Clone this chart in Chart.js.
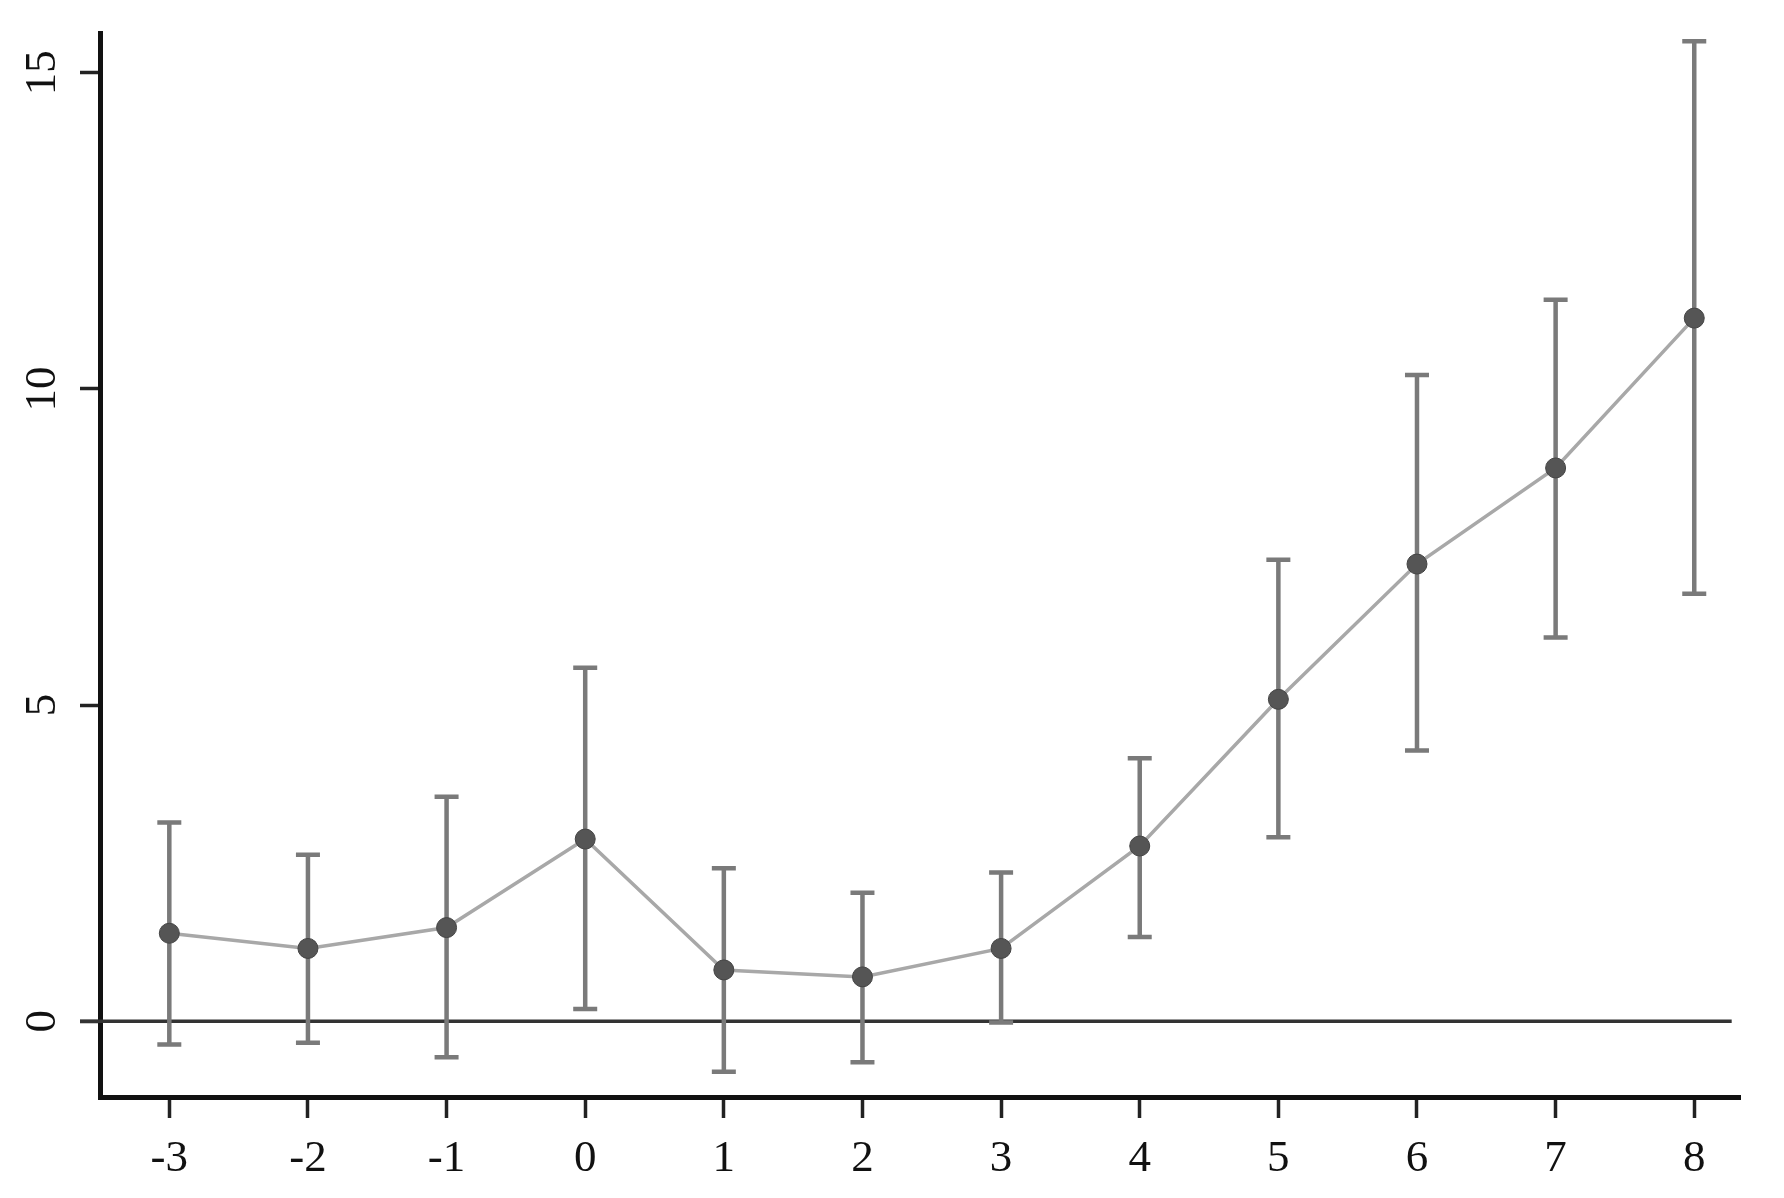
<!DOCTYPE html>
<html>
<head>
<meta charset="utf-8">
<script src="https://cdn.jsdelivr.net/npm/chart.js@4.4.1/dist/chart.umd.min.js"></script>
<style>
  html, body { margin: 0; padding: 0; background: #fff; }
  #wrap { width: 1784px; height: 1198px; }
</style>
</head>
<body>
<div id="wrap"><canvas id="eventStudy" width="1784" height="1198"></canvas></div>
<script>
// event time, point estimates and 95% CI bounds
var periods = [-3, -2, -1, 0, 1, 2, 3, 4, 5, 6, 7, 8];
var estimates = [1.39, 1.15, 1.48, 2.88, 0.81, 0.70, 1.15, 2.77, 5.09, 7.23, 8.75, 11.12];
var ciUpper = [3.14, 2.63, 3.55, 5.59, 2.42, 2.03, 2.35, 4.16, 7.30, 10.22, 11.41, 15.50];
var ciLower = [-0.37, -0.34, -0.57, 0.19, -0.80, -0.65, -0.02, 1.33, 2.91, 4.28, 6.07, 6.76];
var yTickValues = [0, 5, 10, 15];
var xTickValues = [-3, -2, -1, 0, 1, 2, 3, 4, 5, 6, 7, 8];
var zeroLineEnd = 8.27;

var labelFont = '"Liberation Serif", "DejaVu Serif", serif';

// error bars + reference line at 0, drawn under the series
var errorBarPlugin = {
  id: 'errorBars',
  beforeDatasetsDraw: function (chart) {
    var ctx = chart.ctx;
    var xs = chart.scales.x, ys = chart.scales.y;
    ctx.save();
    // horizontal line at zero
    ctx.strokeStyle = '#333';
    ctx.lineWidth = 3.5;
    ctx.beginPath();
    ctx.moveTo(chart.chartArea.left - 20, ys.getPixelForValue(0));
    ctx.lineTo(xs.getPixelForValue(zeroLineEnd), ys.getPixelForValue(0));
    ctx.stroke();

    ctx.strokeStyle = '#7a7a7a';
    ctx.lineWidth = 4.5;
    for (var i = 0; i < periods.length; i++) {
      var px = xs.getPixelForValue(periods[i]);
      var top = ys.getPixelForValue(ciUpper[i]);
      var bot = ys.getPixelForValue(ciLower[i]);
      ctx.beginPath();
      ctx.moveTo(px, top); ctx.lineTo(px, bot);
      ctx.moveTo(px - 12, top); ctx.lineTo(px + 12, top);
      ctx.moveTo(px - 12, bot); ctx.lineTo(px + 12, bot);
      ctx.stroke();
    }
    ctx.restore();
  },
  afterDraw: function (chart) {
    // rotated y labels (read bottom to top)
    var ctx = chart.ctx, ys = chart.scales.y;
    ctx.save();
    ctx.fillStyle = '#111';
    ctx.font = '45px ' + labelFont;
    ctx.textAlign = 'center';
    ctx.textBaseline = 'middle';
    yTickValues.forEach(function (v) {
      ctx.save();
      ctx.translate(43, ys.getPixelForValue(v));
      ctx.rotate(-Math.PI / 2);
      ctx.fillText(String(v), 0, 0);
      ctx.restore();
    });
    ctx.restore();
  }
};

var ctx = document.getElementById('eventStudy').getContext('2d');
var myChart = new Chart(ctx, {
  type: 'line',
  data: {
    datasets: [{
      label: 'estimate',
      data: periods.map(function (p, i) { return { x: p, y: estimates[i] }; }),
      borderColor: '#a8a8a8',
      borderWidth: 3.5,
      pointRadius: 10,
      pointBackgroundColor: '#555555',
      pointBorderColor: '#444444',
      pointBorderWidth: 1,
      tension: 0
    }]
  },
  options: {
    responsive: false,
    animation: false,
    devicePixelRatio: 1,
    layout: { padding: { top: 33, right: 44, left: 0, bottom: 0 } },
    plugins: {
      legend: { display: false },
      tooltip: { enabled: false }
    },
    scales: {
      x: {
        type: 'linear',
        min: -3.5,
        max: 8.33,
        afterBuildTicks: function (axis) {
          axis.ticks = xTickValues.map(function (v) { return { value: v }; });
        },
        afterFit: function (axis) { axis.height = 101; },
        border: { display: true, color: '#111', width: 5 },
        grid: { drawOnChartArea: false, drawTicks: true, tickLength: 21, tickWidth: 3.5, tickColor: '#222' },
        ticks: {
          color: '#111',
          padding: 14,
          maxRotation: 0,
          font: { family: labelFont, size: 45 },
          callback: function (v) { return String(v); }
        }
      },
      y: {
        min: -1.2,
        max: 15.63,
        afterBuildTicks: function (axis) {
          axis.ticks = yTickValues.map(function (v) { return { value: v }; });
        },
        afterFit: function (axis) { axis.width = 100; },
        border: { display: true, color: '#111', width: 5 },
        grid: { drawOnChartArea: false, drawTicks: true, tickLength: 20, tickWidth: 3.5, tickColor: '#222' },
        ticks: { display: false }
      }
    }
  },
  plugins: [errorBarPlugin]
});
</script>
</body>
</html>
